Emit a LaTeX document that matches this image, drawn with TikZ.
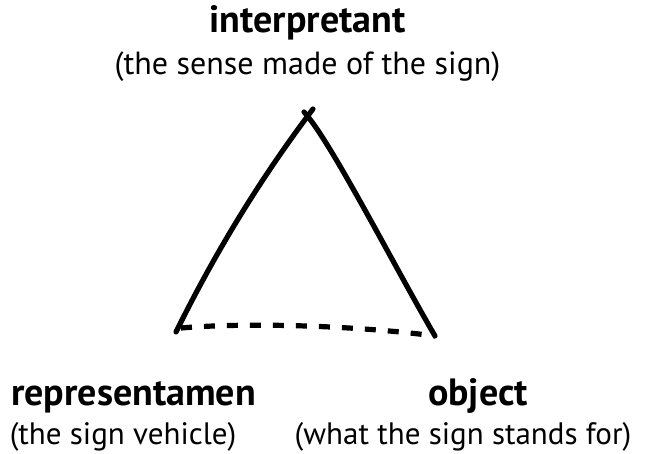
\documentclass[tikz,border=0pt]{standalone}
\usepackage{fontspec}
\setmainfont{PT Sans}
\usetikzlibrary{positioning}

\begin{document}
\begin{tikzpicture}[x=1pt, y=-1pt, line width=5.2pt, line cap=round,
  title/.style={font=\fontsize{38}{40}\selectfont\bfseries, anchor=base, inner sep=0pt},
  gloss/.style={font=\fontsize{31}{34}\selectfont, anchor=base, inner sep=0pt}]
  \useasboundingbox (0,0) rectangle (656,454);
  % corners of the sign triangle (apex strokes cross a little)
  \coordinate (Ia) at (313,109);
  \coordinate (Ib) at (304,112);
  \coordinate (R) at (176,332);
  \coordinate (Rd) at (181,328);
  \coordinate (O) at (435,336);
  % labels
  \node[title] (interp) at (307.5,33) {interpretant};
  \node[gloss, font=\fontsize{32}{34}\selectfont] (interpgloss) at (307.5,75) {(the sense made of the sign)};
  \node[title] (repr) at (133.5,405) {representamen};
  \node[gloss] (reprgloss) at (123,444) {(the sign vehicle)};
  \node[title] (obj) at (478,405) {object};
  \node[gloss] (objgloss) at (463,444) {(what the sign stands for)};
  % sides (drawn by hand)
  \draw (R) .. controls (215,253) and (260,179) .. (Ia);
  \draw (Ib) .. controls (330,140) and (392,262) .. (O);
  \draw[line cap=butt, dash pattern=on 11pt off 12pt] (Rd) .. controls (250,322) and (360,326) .. (O);
\end{tikzpicture}
\end{document}
